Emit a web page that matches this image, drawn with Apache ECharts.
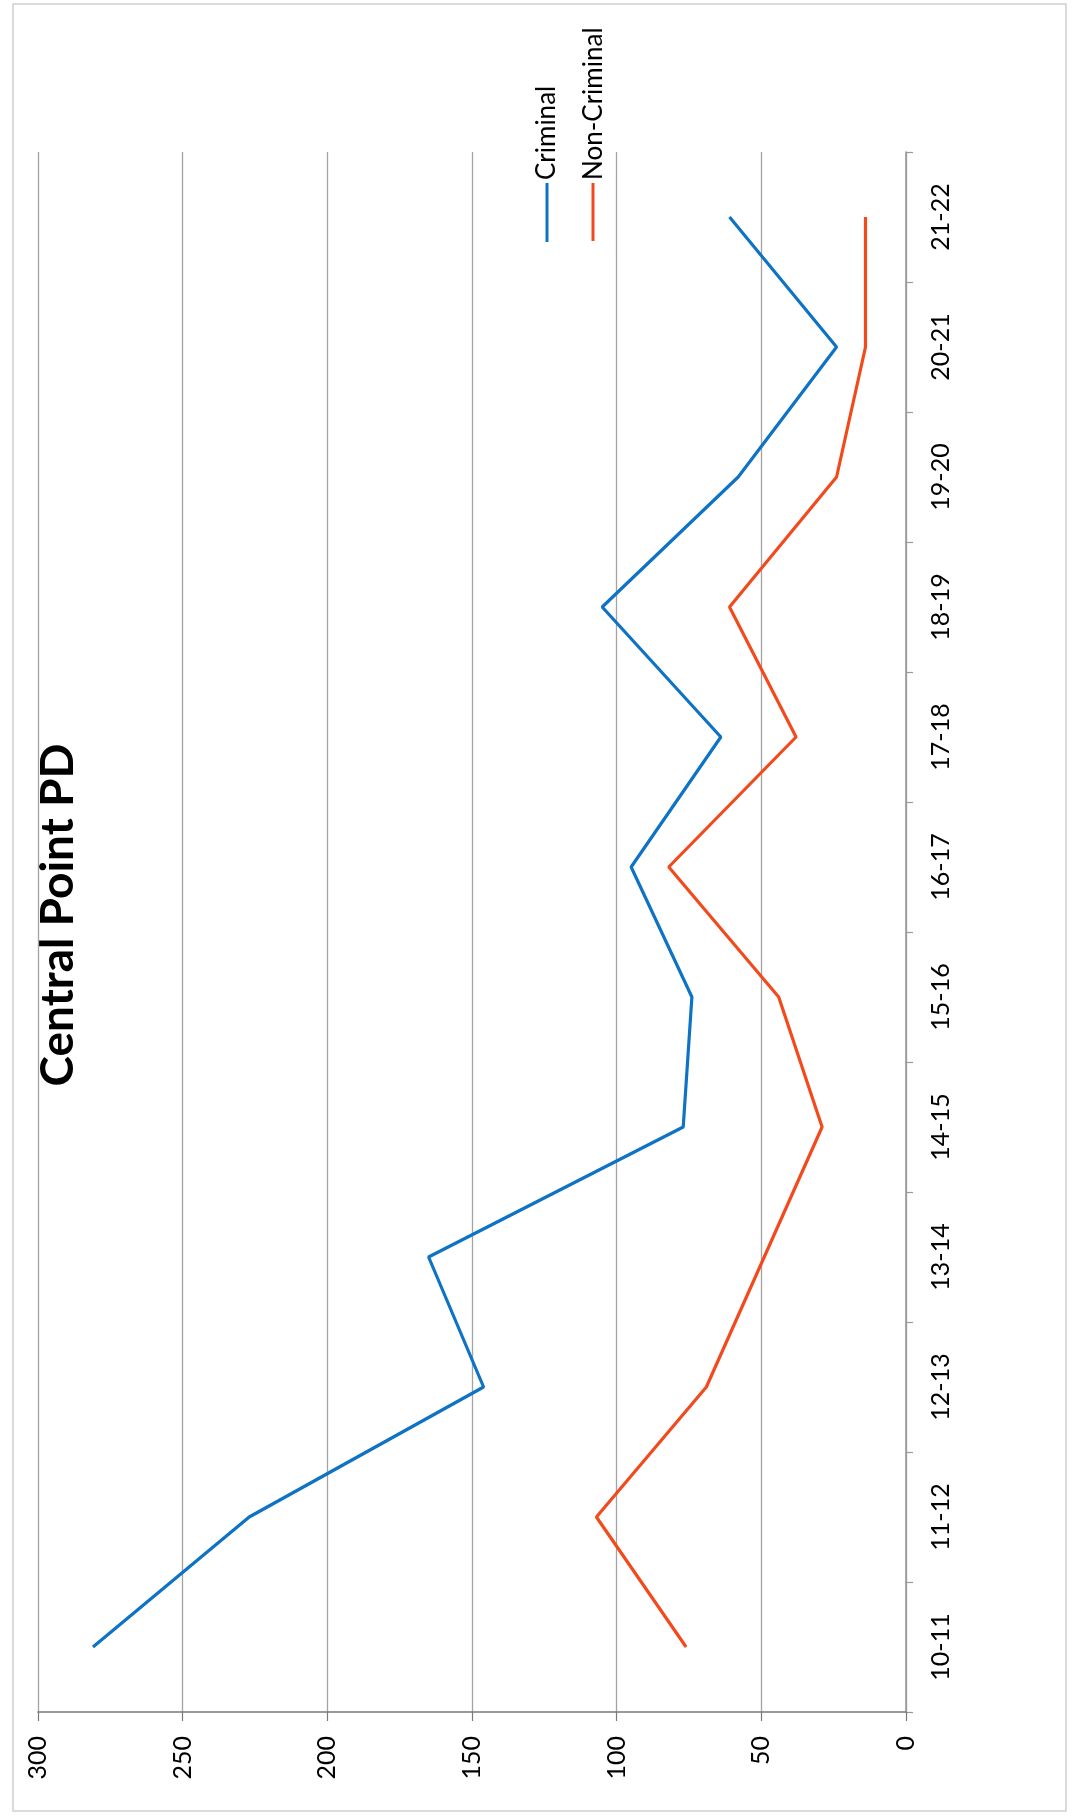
<!DOCTYPE html>
<html>
<head>
<meta charset="utf-8">
<script src="https://cdn.jsdelivr.net/npm/echarts@6/dist/echarts.min.js"></script>
<style>
html,body{margin:0;padding:0;background:#fff;}
#chart{width:1075px;height:1817px;}
</style>
</head>
<body>
<div id="chart"></div>
<script>
const categories = ['10-11','11-12','12-13','13-14','14-15','15-16','16-17','17-18','18-19','19-20','20-21','21-22'];
const criminal = [281, 227, 146, 165, 77, 74, 95, 64, 105, 58, 24, 61];
const nonCriminal = [76, 107, 69, 49, 29, 44, 82, 38, 61, 24, 14, 14];
const valueTicks = { min: 0, max: 300, interval: 50 };
const titleText = 'Central Point PD';
const seriesNames = ['Criminal', 'Non-Criminal'];
const colors = ['#0e72c5', '#f24a1c'];

const FONT = 'Lato, "Open Sans", "Liberation Sans", sans-serif';
const chart = echarts.init(document.getElementById('chart'), null, {renderer: 'canvas'});

const option = {
  animation: false,
  backgroundColor: '#ffffff',
  grid: { left: 38, right: 169, top: 152, bottom: 105, containLabel: false },
  xAxis: {
    type: 'value',
    min: valueTicks.min, max: valueTicks.max, interval: valueTicks.interval,
    inverse: true,
    position: 'bottom',
    axisLine: { show: true, lineStyle: { color: '#7a7a7a', width: 1.6 } },
    axisTick: { show: true, length: 9, lineStyle: { color: '#7a7a7a', width: 1.2 } },
    axisLabel: { rotate: 90, margin: 24, fontSize: 25, color: '#000', fontFamily: FONT },
    splitLine: { show: true, lineStyle: { color: '#a3a3a3', width: 1.3 } }
  },
  yAxis: {
    type: 'category',
    data: categories,
    position: 'right',
    boundaryGap: true,
    axisLine: { show: true, lineStyle: { color: '#9a9a9a', width: 1.6 } },
    axisTick: { show: true, length: 7, inside: false, lineStyle: { color: '#9a9a9a', width: 1.2 } },
    axisLabel: { rotate: 90, margin: 22, fontSize: 25, color: '#000', fontFamily: FONT },
    splitLine: { show: false }
  },
  series: [
    {
      name: seriesNames[0], type: 'line', symbol: 'none',
      data: criminal.map((v, i) => [v, categories[i]]),
      lineStyle: { color: colors[0], width: 3.2 }, itemStyle: { color: colors[0] }
    },
    {
      name: seriesNames[1], type: 'line', symbol: 'none',
      data: nonCriminal.map((v, i) => [v, categories[i]]),
      lineStyle: { color: colors[1], width: 3.2 }, itemStyle: { color: colors[1] }
    }
  ],
  graphic: [
    {
      type: 'rect', silent: true, z: -10,
      shape: { x: 13, y: 4, width: 1053, height: 1807 },
      style: { fill: 'none', stroke: '#cfcfcf', lineWidth: 1.5 }
    },
    {
      type: 'text', x: 58, y: 915, rotation: Math.PI / 2,
      style: { text: titleText, fill: '#000', font: 'bold 46px ' + FONT,
               textAlign: 'center', textVerticalAlign: 'middle', align: 'center', verticalAlign: 'middle' }
    },
    {
      type: 'line', shape: { x1: 547, y1: 183, x2: 547, y2: 242 },
      style: { stroke: colors[0], lineWidth: 3 }
    },
    {
      type: 'text', x: 547, y: 180, rotation: Math.PI / 2,
      style: { text: seriesNames[0], fill: '#000', font: '26px ' + FONT,
               textAlign: 'left', textVerticalAlign: 'middle', align: 'left', verticalAlign: 'middle' }
    },
    {
      type: 'line', shape: { x1: 593, y1: 183, x2: 593, y2: 241 },
      style: { stroke: colors[1], lineWidth: 3 }
    },
    {
      type: 'text', x: 594, y: 180, rotation: Math.PI / 2,
      style: { text: seriesNames[1], fill: '#000', font: '26px ' + FONT,
               textAlign: 'left', textVerticalAlign: 'middle', align: 'left', verticalAlign: 'middle' }
    }
  ]
};
chart.setOption(option);
</script>
</body>
</html>
